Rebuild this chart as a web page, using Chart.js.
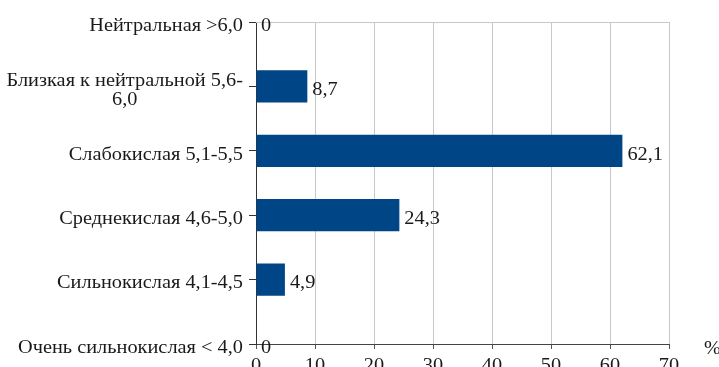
<!DOCTYPE html>
<html>
<head>
<meta charset="utf-8">
<script src="https://cdn.jsdelivr.net/npm/chart.js@4/dist/chart.umd.min.js"></script>
<style>
    html, body { margin: 0; padding: 0; background: #fff; overflow: hidden; }
</style>
</head>
<body>
<canvas id="acidChart" width="719" height="367"></canvas>
<script>
// soil acidity groups, top to bottom
var categories = [
    ["Нейтральная >6,0"],
    ["Близкая к нейтральной 5,6-", "6,0"],
    ["Слабокислая 5,1-5,5"],
    ["Среднекислая 4,6-5,0"],
    ["Сильнокислая 4,1-4,5"],
    ["Очень сильнокислая < 4,0"]
];
var shares = [0, 8.7, 62.1, 24.3, 4.9, 0];
var xTicks = [0, 10, 20, 30, 40, 50, 60, 70];
var unitLabel = "%";

var serif = '"Liberation Serif", "Times New Roman", serif';
var fontPx = 18;
var stretch = 1.13; // wide serif look
var textColor = "#1a1a1a";
var gridColor = "#c8c8c8";

function fmt(v) {
    return v.toString().replace(".", ",");
}

// draw text horizontally stretched, anchored at x
function wideText(ctx, str, x, y, align) {
    var w = ctx.measureText(str).width * stretch;
    var left = x;
    if (align == "right") left = x - w;
    else if (align == "center") left = x - w / 2;
    ctx.save();
    ctx.translate(left, y);
    ctx.scale(stretch, 1);
    ctx.textAlign = "left";
    ctx.fillText(str, 0, 0);
    ctx.restore();
    return w;
}

// light frame line along the top of the plot area
var topLinePlugin = {
    id: "topLinePlugin",
    beforeDatasetsDraw: function (chart) {
        var ctx = chart.ctx;
        var a = chart.chartArea;
        ctx.save();
        ctx.strokeStyle = gridColor;
        ctx.lineWidth = 1;
        ctx.beginPath();
        ctx.moveTo(a.left, Math.round(a.top) + 0.5);
        ctx.lineTo(a.right, Math.round(a.top) + 0.5);
        ctx.stroke();
        ctx.restore();
    }
};

// all labels drawn by hand: y labels right aligned, extra lines centred under the first
var labelsPlugin = {
    id: "labelsPlugin",
    afterDraw: function (chart) {
        var ctx = chart.ctx;
        var y = chart.scales.y;
        var x = chart.scales.x;
        ctx.save();
        ctx.font = fontPx + "px " + serif;
        ctx.fillStyle = textColor;
        ctx.textBaseline = "middle";
        var right = y.right - 13;
        var lineH = 19;
        categories.forEach(function (lines, i) {
            var cy = y.getPixelForTick(i);
            var top = cy - (lines.length - 1) * lineH / 2 + 4;
            var w0 = ctx.measureText(lines[0]).width * stretch;
            lines.forEach(function (line, j) {
                if (j == 0) {
                    wideText(ctx, line, right, top, "right");
                } else {
                    wideText(ctx, line, right - w0 / 2, top + j * lineH, "center");
                }
            });
        });
        // value labels after each bar
        var meta = chart.getDatasetMeta(0);
        meta.data.forEach(function (bar, i) {
            wideText(ctx, fmt(shares[i]), bar.x + 5, bar.y + 4, "left");
        });
        // x tick labels
        xTicks.forEach(function (v) {
            wideText(ctx, String(v), x.getPixelForValue(v), x.top + 22, "center");
        });
        // unit at the end of the axis
        wideText(ctx, unitLabel, x.right + 35, x.top + 5, "left");
        ctx.restore();
    }
};

new Chart(document.getElementById("acidChart").getContext("2d"), {
    type: "bar",
    data: {
        labels: categories,
        datasets: [{
            data: shares,
            backgroundColor: "#004586",
            borderWidth: 0,
            barPercentage: 0.5,
            categoryPercentage: 1
        }]
    },
    options: {
        indexAxis: "y",
        responsive: false,
        animation: false,
        layout: { padding: { top: 22, right: 50, left: 0, bottom: 0 } },
        plugins: {
            legend: { display: false },
            tooltip: { enabled: false }
        },
        scales: {
            x: {
                min: 0,
                max: 70,
                afterBuildTicks: function (scale) {
                    scale.ticks = xTicks.map(function (v) { return { value: v }; });
                },
                afterFit: function (scale) { scale.height = 23; },
                grid: {
                    color: gridColor,
                    tickColor: "#555",
                    tickLength: 5,
                    lineWidth: 1
                },
                border: { color: "#444", width: 1 },
                ticks: {
                    color: "rgba(0,0,0,0)",
                    font: { family: serif, size: fontPx },
                    padding: 3,
                    maxRotation: 0
                }
            },
            y: {
                offset: false,
                afterFit: function (scale) { scale.width = 256; },
                grid: {
                    offset: false,
                    drawOnChartArea: false,
                    tickColor: "#333",
                    tickLength: 7
                },
                border: { color: "#333", width: 1 },
                ticks: {
                    color: "rgba(0,0,0,0)",
                    font: { family: serif, size: fontPx }
                }
            }
        }
    },
    plugins: [topLinePlugin, labelsPlugin]
});
</script>
</body>
</html>
